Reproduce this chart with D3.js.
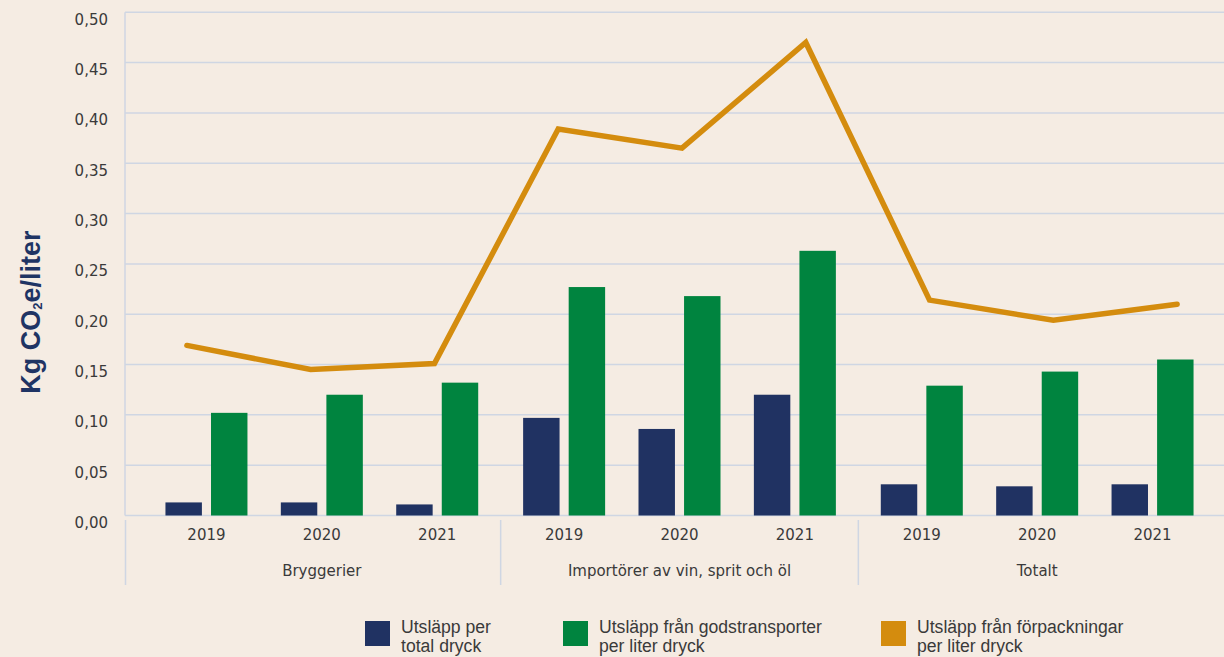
<!DOCTYPE html>
<html>
<head>
<meta charset="utf-8">
<script src="https://cdn.jsdelivr.net/npm/d3@7"></script>
<style>
  html, body { margin: 0; padding: 0; background: #f5ece3; }
  svg { display: block; }
</style>
</head>
<body>
<div id="chart"></div>
<script>
// data
const groups = ["Bryggerier", "Importörer av vin, sprit och öl", "Totalt"];
const years = ["2019", "2020", "2021"];
const totalPerLiter = [0.013, 0.013, 0.011, 0.097, 0.086, 0.120, 0.031, 0.029, 0.031];
const transportPerLiter = [0.102, 0.120, 0.132, 0.227, 0.218, 0.263, 0.129, 0.143, 0.155];
const packagingPerLiter = [0.169, 0.145, 0.151, 0.384, 0.365, 0.470, 0.214, 0.194, 0.210];
const yTicks = [0, 0.05, 0.10, 0.15, 0.20, 0.25, 0.30, 0.35, 0.40, 0.45, 0.50];
const seriesNames = ["total", "transport"];
const legendLabels = [
  ["Utsläpp per", "total dryck"],
  ["Utsläpp från godstransporter", "per liter dryck"],
  ["Utsläpp från förpackningar", "per liter dryck"]
];

const width = 1224, height = 657;
const axisX = 125;
const colors = { total: "#203262", transport: "#00843f", packaging: "#d48c0e" };
const gridColor = "#cfd6e3";
const textColor = "#3a3a3a";

// one row per group/year
const rows = [];
groups.forEach((g, gi) => years.forEach((yr, yi) => {
  const i = gi * years.length + yi;
  rows.push({ key: g + "|" + yr, group: g, year: yr,
    total: totalPerLiter[i], transport: transportPerLiter[i], packaging: packagingPerLiter[i] });
}));

const svg = d3.select("#chart").append("svg")
  .attr("width", width).attr("height", height)
  .style("background", "#f5ece3");

const y = d3.scaleLinear().domain([0, 0.5]).range([515.5, 12.3]);

const xGroup = d3.scaleBand().domain(groups).range([143, 1216]).paddingInner(0);
const xYear = d3.scalePoint().domain(years).range([0, xGroup.bandwidth()]).padding(0.55);
const xSeries = d3.scaleBand().domain(seriesNames).range([-41, 41]).paddingInner(0.2);
// the line sits on an evenly spaced scale of its own
const xLine = d3.scalePoint().domain(rows.map(d => d.key)).range([axisX, 1239]).padding(0.5);

const cx = d => xGroup(d.group) + xYear(d.year);

// GRID
svg.append("g").selectAll("line").data(yTicks).join("line")
  .attr("x1", axisX).attr("x2", width)
  .attr("y1", d => y(d)).attr("y2", d => y(d))
  .attr("stroke", gridColor).attr("stroke-width", 1.5);

svg.append("line")
  .attr("x1", axisX).attr("x2", axisX)
  .attr("y1", y(0.5)).attr("y2", y(0))
  .attr("stroke", gridColor).attr("stroke-width", 1.5);

// Y TICK LABELS
svg.append("g")
  .attr("font-family", "DejaVu Sans, sans-serif").attr("font-size", 15)
  .attr("fill", textColor).attr("text-anchor", "end")
  .selectAll("text").data(yTicks).join("text")
  .attr("x", 108).attr("y", d => y(d) + 8)
  .attr("dominant-baseline", "middle")
  .text(d => d.toFixed(2).replace(".", ","));

// Y TITLE
const title = svg.append("text")
  .attr("transform", "translate(40,312) rotate(-90)")
  .attr("text-anchor", "middle")
  .attr("font-family", "Liberation Sans, Arial, sans-serif")
  .attr("font-weight", "bold").attr("font-size", 27)
  .attr("fill", "#1f3464");
title.append("tspan").text("Kg CO");
title.append("tspan").attr("font-size", 13).attr("dy", 2).text("2");
title.append("tspan").attr("dy", -2).text("e/liter");

// BARS
const barG = svg.append("g");
seriesNames.forEach(s => {
  barG.append("g").attr("fill", colors[s])
    .selectAll("rect").data(rows).join("rect")
    .attr("x", d => cx(d) + xSeries(s))
    .attr("width", xSeries.bandwidth())
    .attr("y", d => y(d[s]))
    .attr("height", d => y(0) - y(d[s]));
});

// LINE
svg.append("path").datum(rows)
  .attr("fill", "none").attr("stroke", colors.packaging)
  .attr("stroke-width", 5.5).attr("stroke-linejoin", "miter").attr("stroke-linecap", "round")
  .attr("d", d3.line().x(d => xLine(d.key)).y(d => y(d.packaging)));

// X AXIS LABELS
const xAxisG = svg.append("g")
  .attr("font-family", "DejaVu Sans, sans-serif").attr("font-size", 15)
  .attr("fill", textColor).attr("text-anchor", "middle");

xAxisG.selectAll("text.year").data(rows).join("text")
  .attr("class", "year")
  .attr("x", d => cx(d)).attr("y", 535)
  .attr("dominant-baseline", "middle")
  .text(d => d.year);

xAxisG.selectAll("text.group").data(groups).join("text")
  .attr("class", "group")
  .attr("x", d => xGroup(d) + xGroup.bandwidth() / 2).attr("y", 571)
  .attr("dominant-baseline", "middle")
  .text(d => d);

// separators between groups
const sepX = groups.map((g, i) => i === 0 ? axisX + 0.5 : xGroup(g));
svg.append("g").selectAll("line").data(sepX).join("line")
  .attr("x1", d => d).attr("x2", d => d)
  .attr("y1", 520).attr("y2", 585)
  .attr("stroke", gridColor).attr("stroke-width", 1.5);

// LEGEND
const legendX = [365, 563, 881];
const legendColors = [colors.total, colors.transport, colors.packaging];
const legend = svg.append("g")
  .attr("font-family", "Liberation Sans, Arial, sans-serif").attr("font-size", 17.6)
  .attr("fill", textColor);

const items = legend.selectAll("g").data(legendLabels).join("g")
  .attr("transform", (d, i) => `translate(${legendX[i]},621)`);

items.append("rect")
  .attr("width", 25).attr("height", 25)
  .attr("fill", (d, i) => legendColors[i]);

items.append("text")
  .attr("x", 36)
  .selectAll("tspan").data(d => d).join("tspan")
  .attr("x", 36).attr("y", (d, i) => 12 + i * 19)
  .text(d => d);
</script>
</body>
</html>
